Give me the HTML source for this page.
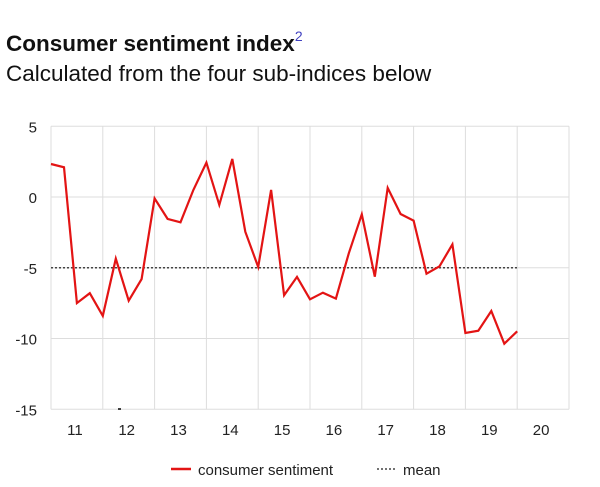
<!DOCTYPE html>
<html><head><meta charset="utf-8"><style>
body{margin:0;background:#fff;width:600px;height:487px;overflow:hidden;font-family:"Liberation Sans",Arial,sans-serif}
svg{position:absolute;left:0;top:0}
</style></head><body>
<svg width="600" height="487">
<text x="6" y="51" font-size="22.5" font-weight="bold" fill="#111">Consumer sentiment index<tspan dy="-10" font-size="14" font-weight="normal" fill="#4040c0">2</tspan></text>
<text x="6" y="81" font-size="22.5" fill="#111">Calculated from the four sub-indices below</text>
<g id="grid"></g><g id="marks"></g>
<line x1="118" y1="409" x2="121" y2="409" stroke="#000" stroke-width="1.5"/>
<g>
<line x1="171" y1="469" x2="191" y2="469" stroke="#e31414" stroke-width="2.5"/>
<text x="198" y="475" font-size="15" fill="#222">consumer sentiment</text>
<line x1="377" y1="469" x2="396" y2="469" stroke="#444" stroke-width="1.5" stroke-dasharray="2,2"/>
<text x="403" y="475" font-size="15" fill="#222">mean</text>
</g>
</svg>
<script>
const years=["11","12","13","14","15","16","17","18","19","20"];
const yTicks=[5,0,-5,-10,-15];
const sentiment=[2.33,2.1,-7.5,-6.8,-8.4,-4.36,-7.33,-5.8,-0.1,-1.55,-1.79,0.5,2.43,-0.56,2.69,-2.45,-4.95,0.5,-6.95,-5.65,-7.23,-6.76,-7.18,-3.98,-1.22,-5.63,0.64,-1.2,-1.67,-5.42,-4.9,-3.35,-9.61,-9.45,-8.06,-10.37,-9.49];
const meanValue=[-5];
const X0=51,YW=51.8,Q=YW/4;
function xq(i){return X0+i*Q;}
function y(v){return 197-v*14.15;}
const NS="http://www.w3.org/2000/svg";
const grid=document.getElementById('grid'),marks=document.getElementById('marks');
function mk(tag,attrs,parent){const e=document.createElementNS(NS,tag);for(const k in attrs)e.setAttribute(k,attrs[k]);parent.appendChild(e);return e;}
yTicks.forEach(v=>{
 const l=mk('line',{x1:X0,x2:X0+10*YW,y1:y(v),y2:y(v),stroke:'#ddd','stroke-width':1},grid);
 
 
 const t=mk('text',{x:37,y:y(v)+6,'font-size':15,'text-anchor':'end',fill:'#222'},grid);
 t.textContent=v;
 
 
});
for(let i=0;i<=years.length;i++){
 const l=mk('line',{x1:X0+i*YW,x2:X0+i*YW,y1:y(5),y2:y(-15),stroke:'#ddd','stroke-width':1},grid);
 
 
}
years.forEach((yr,i)=>{
 const t=mk('text',{x:X0+i*YW+YW/2-2,y:435,'font-size':15,'text-anchor':'middle',fill:'#222'},grid);
 t.textContent=yr;
 
 
});
const m=mk('line',{x1:xq(0),x2:xq(sentiment.length-1),y1:y(meanValue[0]),y2:y(meanValue[0]),stroke:'#444','stroke-width':1.6,'stroke-dasharray':'2,2'},marks);


const p=mk('polyline',{points:sentiment.map((v,i)=>xq(i).toFixed(1)+','+y(v).toFixed(1)).join(' '),fill:'none',stroke:'#e31414','stroke-width':2.2,'stroke-linejoin':'miter'},marks);


</script>
</body></html>
